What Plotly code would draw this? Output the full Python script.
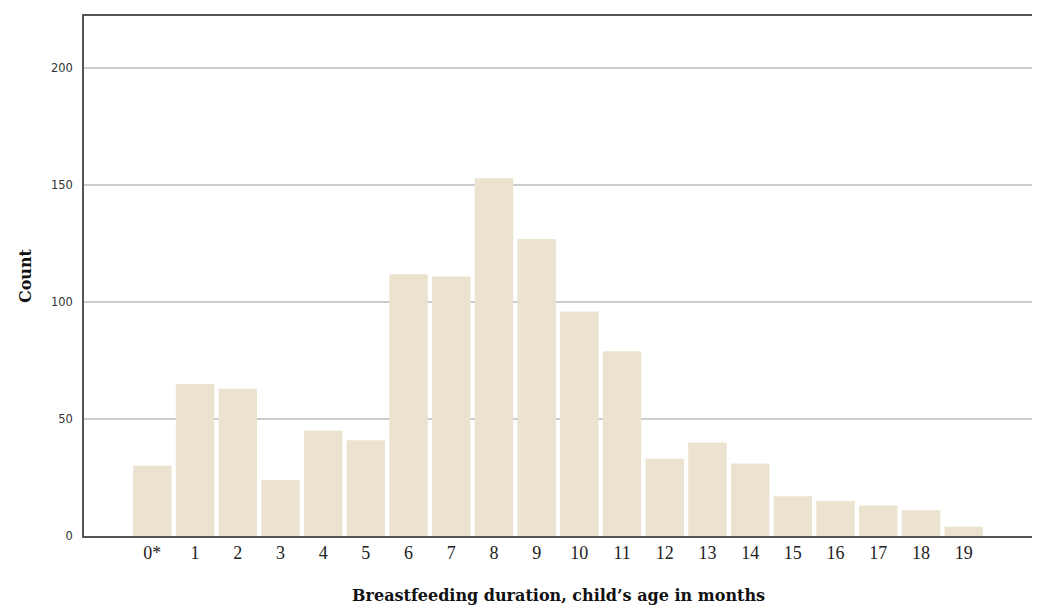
import plotly.graph_objects as go

categories = ["0*", "1", "2", "3", "4", "5", "6", "7", "8", "9", "10",
              "11", "12", "13", "14", "15", "16", "17", "18", "19"]
counts = [30, 65, 63, 24, 45, 41, 112, 111, 153, 127, 96,
          79, 33, 40, 31, 17, 15, 13, 11, 4]
y_ticks = [0, 50, 100, 150, 200]

# page body has an 8px margin; figure sized so the plot lands where the reference has it
fig = go.Figure(go.Bar(
    x=list(range(len(categories))),
    y=counts,
    marker=dict(color="rgb(235,227,207)", line=dict(width=0)),
    width=0.9,
    hoverinfo="y",
))

plot_w = 949
fig.update_layout(
    width=1032, height=600,
    margin=dict(l=76, r=7, t=6, b=72),
    paper_bgcolor="white", plot_bgcolor="white",
    showlegend=False,
    xaxis=dict(
        range=[-1.6, 20.6],
        tickmode="array",
        tickvals=list(range(len(categories))),
        ticktext=categories,
        showgrid=False, zeroline=False,
        showline=True, linecolor="#555555", linewidth=1.5, mirror=True,
        ticks="",
        tickfont=dict(family="Liberation Serif", size=18, color="#222222"),
    ),
    yaxis=dict(
        range=[0, 222.4],
        tickmode="array",
        tickvals=y_ticks,
        showgrid=True, gridcolor="#cccccc", gridwidth=1.5,
        zeroline=False,
        showline=True, linecolor="#555555", linewidth=1.5, mirror=True,
        ticks="",
        ticklabelstandoff=7,
        tickfont=dict(family="DejaVu Sans", size=11.5, color="#333333"),
    ),
    annotations=[
        dict(text="<b>Breastfeeding duration, child’s age in months</b>",
             xref="paper", yref="paper", x=0.5, y=-60 / 522,
             xanchor="center", yanchor="middle", showarrow=False,
             font=dict(family="DejaVu Serif", size=16, color="#111111")),
        dict(text="<b>Count</b>",
             xref="paper", yref="paper", x=(25 - 84) / plot_w, y=0.5,
             xanchor="center", yanchor="middle", showarrow=False, textangle=-90,
             font=dict(family="DejaVu Serif", size=16, color="#111111")),
    ],
)

fig.write_html("out.html")
